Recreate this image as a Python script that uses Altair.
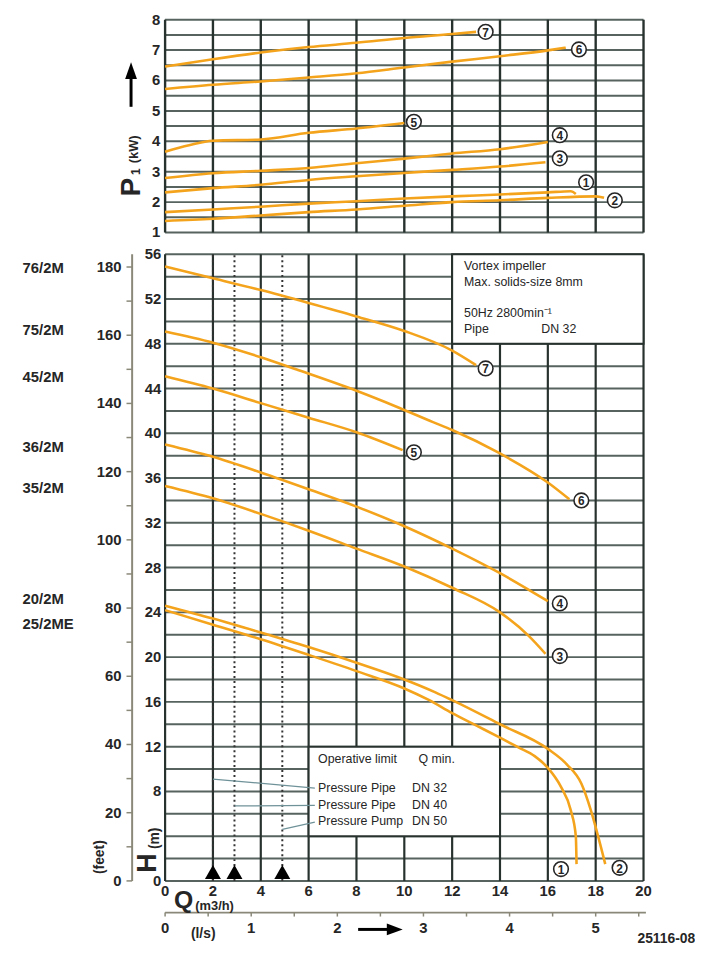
import altair as alt
import pandas as pd
import numpy as np

# ---------------- data ----------------
# Head curves H (m) against Q (m3/h)
h1_q = [0, 2, 4, 6, 8, 10, 11, 12, 13, 14, 14.75, 15.45, 16, 16.55, 16.96, 17.17, 17.2]
h1_h = [24.2, 22.9, 21.6, 20.2, 18.75, 17.2, 16.2, 15.0, 13.9, 12.8, 11.95, 11.15, 10.1, 8.4, 6.3, 4.0, 1.5]
h2_q = [0, 2, 4, 6, 8, 10, 11.3, 12, 14, 16, 16.8, 17.4, 17.8, 18.1, 18.4]
h2_h = [24.6, 23.45, 22.2, 20.9, 19.5, 18.0, 16.85, 16.15, 14.0, 11.8, 10.4, 8.7, 6.3, 4.0, 1.5]
h3_q = [0, 2, 4, 6, 8, 10, 12, 14, 15.2, 15.9]
h3_h = [35.3, 34.2, 32.8, 31.3, 29.7, 28.1, 26.2, 24.0, 21.9, 20.3]
h4_q = [0, 2, 4, 6, 8, 10, 12, 14, 16]
h4_h = [39.0, 37.9, 36.5, 35.0, 33.45, 31.7, 29.7, 27.5, 25.0]
h5_q = [0, 2, 4, 6, 8, 9.93]
h5_h = [45.1, 44.0, 42.7, 41.4, 40.1, 38.5]
h6_q = [0, 2, 4, 5.5, 8, 9.65, 11.2, 12, 14, 16, 16.9]
h6_h = [49.1, 48.1, 46.8, 45.7, 43.8, 42.4, 41.0, 40.3, 38.2, 35.6, 34.1]
h7_q = [0, 2, 4, 6, 8, 10, 12, 13]
h7_h = [54.9, 53.85, 52.8, 51.65, 50.45, 49.15, 47.4, 46.1]

# Power curves P1 (kW) against Q (m3/h)
p1_q = [0, 2, 4, 6, 8, 10, 12, 14, 16, 16.96, 17.17]
p1_p = [1.67, 1.76, 1.85, 1.95, 2.03, 2.12, 2.19, 2.25, 2.32, 2.36, 2.27]
p2_q = [0, 2, 4, 6, 8, 10, 12, 14, 16, 18, 18.35]
p2_p = [1.38, 1.45, 1.56, 1.67, 1.76, 1.88, 2.0, 2.06, 2.14, 2.19, 2.14]
p3_q = [0, 2, 4, 6, 8, 10, 12, 14, 15.9]
p3_p = [2.32, 2.46, 2.57, 2.73, 2.85, 2.96, 3.06, 3.17, 3.31]
p4_q = [0, 2, 4, 6, 8, 10, 12, 14, 16]
p4_p = [2.79, 2.95, 3.03, 3.12, 3.28, 3.43, 3.60, 3.74, 3.98]
p5_q = [0, 1, 2, 4, 6, 8, 10]
p5_p = [3.66, 3.87, 4.02, 4.06, 4.28, 4.42, 4.60]
p6_q = [0, 2, 4, 6, 8, 10, 12, 14, 16, 16.75]
p6_p = [5.72, 5.86, 5.97, 6.10, 6.24, 6.43, 6.62, 6.80, 6.99, 7.08]
p7_q = [0, 2, 4, 6, 8, 10, 12, 13]
p7_p = [6.46, 6.70, 6.92, 7.10, 7.24, 7.40, 7.53, 7.60]

# curve number markers
mark_ids = ["1", "2", "3", "4", "5", "6", "7"]
mark_main_q = [16.55, 19.0, 16.5, 16.5, 10.4, 17.4, 13.4]
mark_main_h = [1.06, 1.17, 20.1, 24.8, 38.3, 34.0, 45.8]
mark_top_q = [17.6, 18.8, 16.5, 16.5, 10.4, 17.3, 13.4]
mark_top_p = [2.65, 2.06, 3.44, 4.2, 4.64, 7.02, 7.6]

# pump model names at the start of their curves
model_names = ["76/2M", "75/2M", "45/2M", "36/2M", "35/2M", "20/2M", "25/2ME"]
model_h = [54.8, 49.2, 45.0, 38.8, 35.1, 25.2, 23.0]

# operative limit Q min. lines and leaders
qmin_q = [2, 2.9, 4.9]
leader_q0 = [2, 2.9, 4.9]
leader_h0 = [9.1, 6.7, 4.6]
leader_q1 = [6.26, 6.26, 6.26]
leader_h1 = [8.3, 6.75, 5.25]

# tick labels
h_ticks = [0, 8, 12, 16, 20, 24, 28, 32, 36, 40, 44, 48, 52, 56]
ft_labels = [0, 20, 40, 60, 80, 100, 120, 140, 160, 180]
ft_ticks = list(range(0, 181, 10))
p_ticks = [1, 2, 3, 4, 5, 6, 7, 8]
q_ticks = list(range(0, 21, 2))
ls_labels = [0, 1, 2, 3, 4, 5]
ls_ticks = [0, 0.5, 1, 1.5, 2, 2.5, 3, 3.5, 4, 4.5, 5, 5.5]

# ---------------- styling ----------------
FONT = "Liberation Sans"
INK = "#262626"
VGRID = "#27312d"
HGRID = "#56635e"
AXC = "#8a8878"
ORANGE = "#F4A41C"
W, H = 483.3, 870

xs = alt.Scale(domain=[0, 20], nice=False, zero=False)
ysm = alt.Scale(domain=[0, 56], range=[870, 237], nice=False, zero=False)
yst = alt.Scale(domain=[1, 8], range=[215, 0], nice=False, zero=False)


def X(f):
    return alt.X(f, type="quantitative", scale=xs, axis=None)


def YM(f):
    return alt.Y(f, type="quantitative", scale=ysm, axis=None)


def YT(f):
    return alt.Y(f, type="quantitative", scale=yst, axis=None)


def long(curves, vname):
    rows = []
    for cid, (qs, vs) in curves.items():
        for q, v in zip(qs, vs):
            rows.append({"curve": cid, "q": q, vname: v})
    return pd.DataFrame(rows)


one = pd.DataFrame({"a": [0]})


def txt(text, x, y, size=14, weight="bold", align="left", baseline="middle", angle=0, color=INK):
    kw = dict(text=text, align=align, baseline=baseline, fontSize=size,
              fontWeight=weight, font=FONT, color=color)
    if angle:
        kw["angle"] = angle
    return alt.Chart(one).mark_text(**kw).encode(x=alt.value(x), y=alt.value(y))


# ---------------- main (head) chart ----------------
head_df = long({"1": (h1_q, h1_h), "2": (h2_q, h2_h), "3": (h3_q, h3_h), "4": (h4_q, h4_h),
                "5": (h5_q, h5_h), "6": (h6_q, h6_h), "7": (h7_q, h7_h)}, "h")

mh = pd.DataFrame({"h": np.arange(0, 57, 2), "q0": 0, "q1": 20})
mv = pd.DataFrame({"q": q_ticks, "h0": 0, "h1": 56})
main_hgrid = alt.Chart(mh).mark_rule(color=HGRID, strokeWidth=2).encode(x=X("q0"), x2="q1", y=YM("h"))
main_vgrid = alt.Chart(mv).mark_rule(color=VGRID, strokeWidth=2.2).encode(x=X("q"), y=YM("h0"), y2="h1")

qmin_df = pd.DataFrame({"q": qmin_q, "h0": 0, "h1": 56})
qmin_lines = alt.Chart(qmin_df).mark_rule(color="#333333", strokeWidth=2, strokeDash=[2, 3]).encode(
    x=X("q"), y=YM("h0"), y2="h1")

boxes_df = pd.DataFrame({"q0": [12, 6], "q1": [20, 14], "h0": [48, 4], "h1": [56, 12]})
boxes = alt.Chart(boxes_df).mark_rect(fill="white", stroke=VGRID, strokeWidth=2).encode(
    x=X("q0"), x2="q1", y=YM("h0"), y2="h1")

lead_df = pd.DataFrame({"q0": leader_q0, "h0": leader_h0, "q1": leader_q1, "h1": leader_h1})
leaders = alt.Chart(lead_df).mark_rule(color="#6f9299", strokeWidth=1.2).encode(
    x=X("q0"), x2="q1", y=YM("h0"), y2="h1")

head_lines = alt.Chart(head_df).mark_line(color=ORANGE, strokeWidth=2.6, interpolate="monotone").encode(
    x=X("q"), y=YM("h"), detail="curve:N")

mm_df = pd.DataFrame({"id": mark_ids, "q": mark_main_q, "h": mark_main_h})
mm_circ = alt.Chart(mm_df).mark_circle(size=220, fill="white", stroke=INK, strokeWidth=1.6, opacity=1).encode(
    x=X("q"), y=YM("h"))
mm_txt = alt.Chart(mm_df).mark_text(fontSize=12, fontWeight="bold", font=FONT, color=INK, dy=1).encode(
    x=X("q"), y=YM("h"), text="id:N")

tri = alt.Chart(pd.DataFrame({"q": qmin_q})).mark_point(
    shape="triangle-up", filled=True, color="black", size=260, opacity=1).encode(x=X("q"), y=alt.value(861))

# axes (drawn by hand)
hl_df = pd.DataFrame({"h": h_ticks, "lab": [str(v) for v in h_ticks]})
h_labels = alt.Chart(hl_df).mark_text(align="right", baseline="middle", fontSize=15, fontWeight="bold",
                                      font=FONT, color=INK).encode(x=alt.value(-4), y=YM("h"), text="lab:N")

ft_axis = alt.Chart(pd.DataFrame({"h0": [0], "h1": [56]})).mark_rule(color=AXC, strokeWidth=2).encode(
    x=alt.value(-33.3), y=YM("h0"), y2="h1")
ft_tick = alt.Chart(pd.DataFrame({"ft": ft_ticks})).transform_calculate(h="datum.ft / 3.28084").mark_rule(
    color=AXC, strokeWidth=1.5).encode(x=alt.value(-39), x2=alt.value(-33.3), y=YM("h"))
ft_lab = alt.Chart(pd.DataFrame({"ft": ft_labels})).transform_calculate(
    h="datum.ft / 3.28084", lab="'' + datum.ft").mark_text(
    align="right", baseline="middle", fontSize=15, fontWeight="bold", font=FONT, color=INK).encode(
    x=alt.value(-44), y=YM("h"), text="lab:N")

model_df = pd.DataFrame({"name": model_names, "h": model_h})
models = alt.Chart(model_df).mark_text(align="left", baseline="middle", fontSize=15, fontWeight="bold",
                                       font=FONT, color=INK).encode(x=alt.value(-144), y=YM("h"), text="name:N")

q_lab = alt.Chart(pd.DataFrame({"q": q_ticks})).transform_calculate(lab="'' + datum.q").mark_text(
    align="center", baseline="middle", fontSize=15, fontWeight="bold", font=FONT, color=INK).encode(
    x=X("q"), y=alt.value(880.5), text="lab:N")

ls_line = alt.Chart(pd.DataFrame({"q0": [0], "q1": [20.1]})).mark_rule(color=AXC, strokeWidth=1.6).encode(
    x=X("q0"), x2="q1", y=alt.value(902))
ls_tick = alt.Chart(pd.DataFrame({"ls": ls_ticks})).transform_calculate(q="datum.ls * 3.6").mark_rule(
    color=AXC, strokeWidth=1.5).encode(x=X("q"), y=alt.value(902), y2=alt.value(906))
ls_lab = alt.Chart(pd.DataFrame({"ls": ls_labels})).transform_calculate(
    q="datum.ls * 3.6", lab="'' + datum.ls").mark_text(
    align="center", baseline="middle", fontSize=15, fontWeight="bold", font=FONT, color=INK).encode(
    x=X("q"), y=alt.value(918), text="lab:N")

arrow_shaft = alt.Chart(one).mark_rule(color="black", strokeWidth=3).encode(
    x=alt.value(195), x2=alt.value(226), y=alt.value(919))
arrow_head = alt.Chart(one).mark_point(shape="M1,0L-1,0.75L-1,-0.75Z", filled=True, color="black",
                                       size=256, opacity=1).encode(x=alt.value(232), y=alt.value(919))

main_texts = [
    txt("Vortex impeller", 302, 249, size=12.5, weight="normal"),
    txt("Max. solids-size 8mm", 302, 265, size=12.5, weight="normal"),
    txt("50Hz  2800min\u207b\u00b9", 302, 296, size=12.5, weight="normal"),
    txt("Pipe", 302, 313, size=12.5, weight="normal"),
    txt("DN 32", 380, 313, size=12.5, weight="normal"),
    txt("Operative limit", 154.5, 747, size=12.5, weight="normal"),
    txt("Q min.", 256, 747, size=12.5, weight="normal"),
    txt("Pressure Pipe", 154.5, 776, size=12.5, weight="normal"),
    txt("DN 32", 249.5, 776, size=12.5, weight="normal"),
    txt("Pressure Pipe", 154.5, 793, size=12.5, weight="normal"),
    txt("DN 40", 249.5, 793, size=12.5, weight="normal"),
    txt("Pressure Pump", 154.5, 810, size=12.5, weight="normal"),
    txt("DN 50", 249.5, 810, size=12.5, weight="normal"),
    txt("H", -9.5, 852, size=27, baseline="alphabetic", align="center", angle=270),
    txt("(m)", -6.5, 827, size=14, baseline="alphabetic", align="center", angle=270),
    txt("(feet)", -62, 846, size=14, baseline="alphabetic", align="center", angle=270),
    txt("Q", 9, 897, size=25, baseline="alphabetic"),
    txt("(m3/h)", 30.5, 899, size=13, baseline="alphabetic"),
    txt("(l/s)", 38.5, 924, size=14, align="center"),
    txt("25116-08", 535.5, 929, size=14, align="right"),
]

main_layer = alt.layer(
    main_hgrid, main_vgrid, qmin_lines, boxes, leaders, head_lines, mm_circ, mm_txt, tri,
    h_labels, ft_axis, ft_tick, ft_lab, models, q_lab, ls_line, ls_tick, ls_lab,
    arrow_shaft, arrow_head, *main_texts)

# ---------------- top (power) chart ----------------
pow_df = long({"1": (p1_q, p1_p), "2": (p2_q, p2_p), "3": (p3_q, p3_p), "4": (p4_q, p4_p),
               "5": (p5_q, p5_p), "6": (p6_q, p6_p), "7": (p7_q, p7_p)}, "p")

th = pd.DataFrame({"p": np.arange(1, 8.01, 0.5), "q0": 0, "q1": 20})
tv = pd.DataFrame({"q": q_ticks, "p0": 1, "p1": 8})
top_hgrid = alt.Chart(th).mark_rule(color=HGRID, strokeWidth=2).encode(x=X("q0"), x2="q1", y=YT("p"))
top_vgrid = alt.Chart(tv).mark_rule(color=VGRID, strokeWidth=2.4).encode(x=X("q"), y=YT("p0"), y2="p1")

pow_lines = alt.Chart(pow_df).mark_line(color=ORANGE, strokeWidth=2.6, interpolate="monotone").encode(
    x=X("q"), y=YT("p"), detail="curve:N")

tm_df = pd.DataFrame({"id": mark_ids, "q": mark_top_q, "p": mark_top_p})
tm_circ = alt.Chart(tm_df).mark_circle(size=220, fill="white", stroke=INK, strokeWidth=1.6, opacity=1).encode(
    x=X("q"), y=YT("p"))
tm_txt = alt.Chart(tm_df).mark_text(fontSize=12, fontWeight="bold", font=FONT, color=INK, dy=1).encode(
    x=X("q"), y=YT("p"), text="id:N")

pl_df = pd.DataFrame({"p": p_ticks, "lab": [str(v) for v in p_ticks]})
p_labels = alt.Chart(pl_df).mark_text(align="right", baseline="middle", fontSize=15, fontWeight="bold",
                                      font=FONT, color=INK).encode(x=alt.value(-5), y=YT("p"), text="lab:N")

up_shaft = alt.Chart(one).mark_rule(color="black", strokeWidth=3).encode(
    x=alt.value(-34.4), y=alt.value(56), y2=alt.value(88))
up_head = alt.Chart(one).mark_point(shape="M0,-1L0.7,1L-0.7,1Z", filled=True, color="black",
                                    size=289, opacity=1).encode(x=alt.value(-34.4), y=alt.value(51.5))

top_texts = [
    txt("P", -25, 169, size=28, baseline="alphabetic", align="center", angle=270),
    txt("1", -25, 153.5, size=12, baseline="alphabetic", align="center", angle=270),
    txt("(kW)", -27, 131, size=13, baseline="alphabetic", align="center", angle=270),
]

top_layer = alt.layer(top_hgrid, top_vgrid, pow_lines, tm_circ, tm_txt, p_labels, up_shaft, up_head,
                      *top_texts)

chart = alt.layer(main_layer, top_layer).resolve_scale(y="independent").properties(
    width=W, height=H,
    autosize=alt.AutoSizeParams(type="none"),
    padding={"left": 158.7, "top": 7, "right": 52, "bottom": 67},
    background="white",
).configure_view(strokeWidth=0)

chart.save("out.html", embed_options={"renderer": "svg", "actions": False})
